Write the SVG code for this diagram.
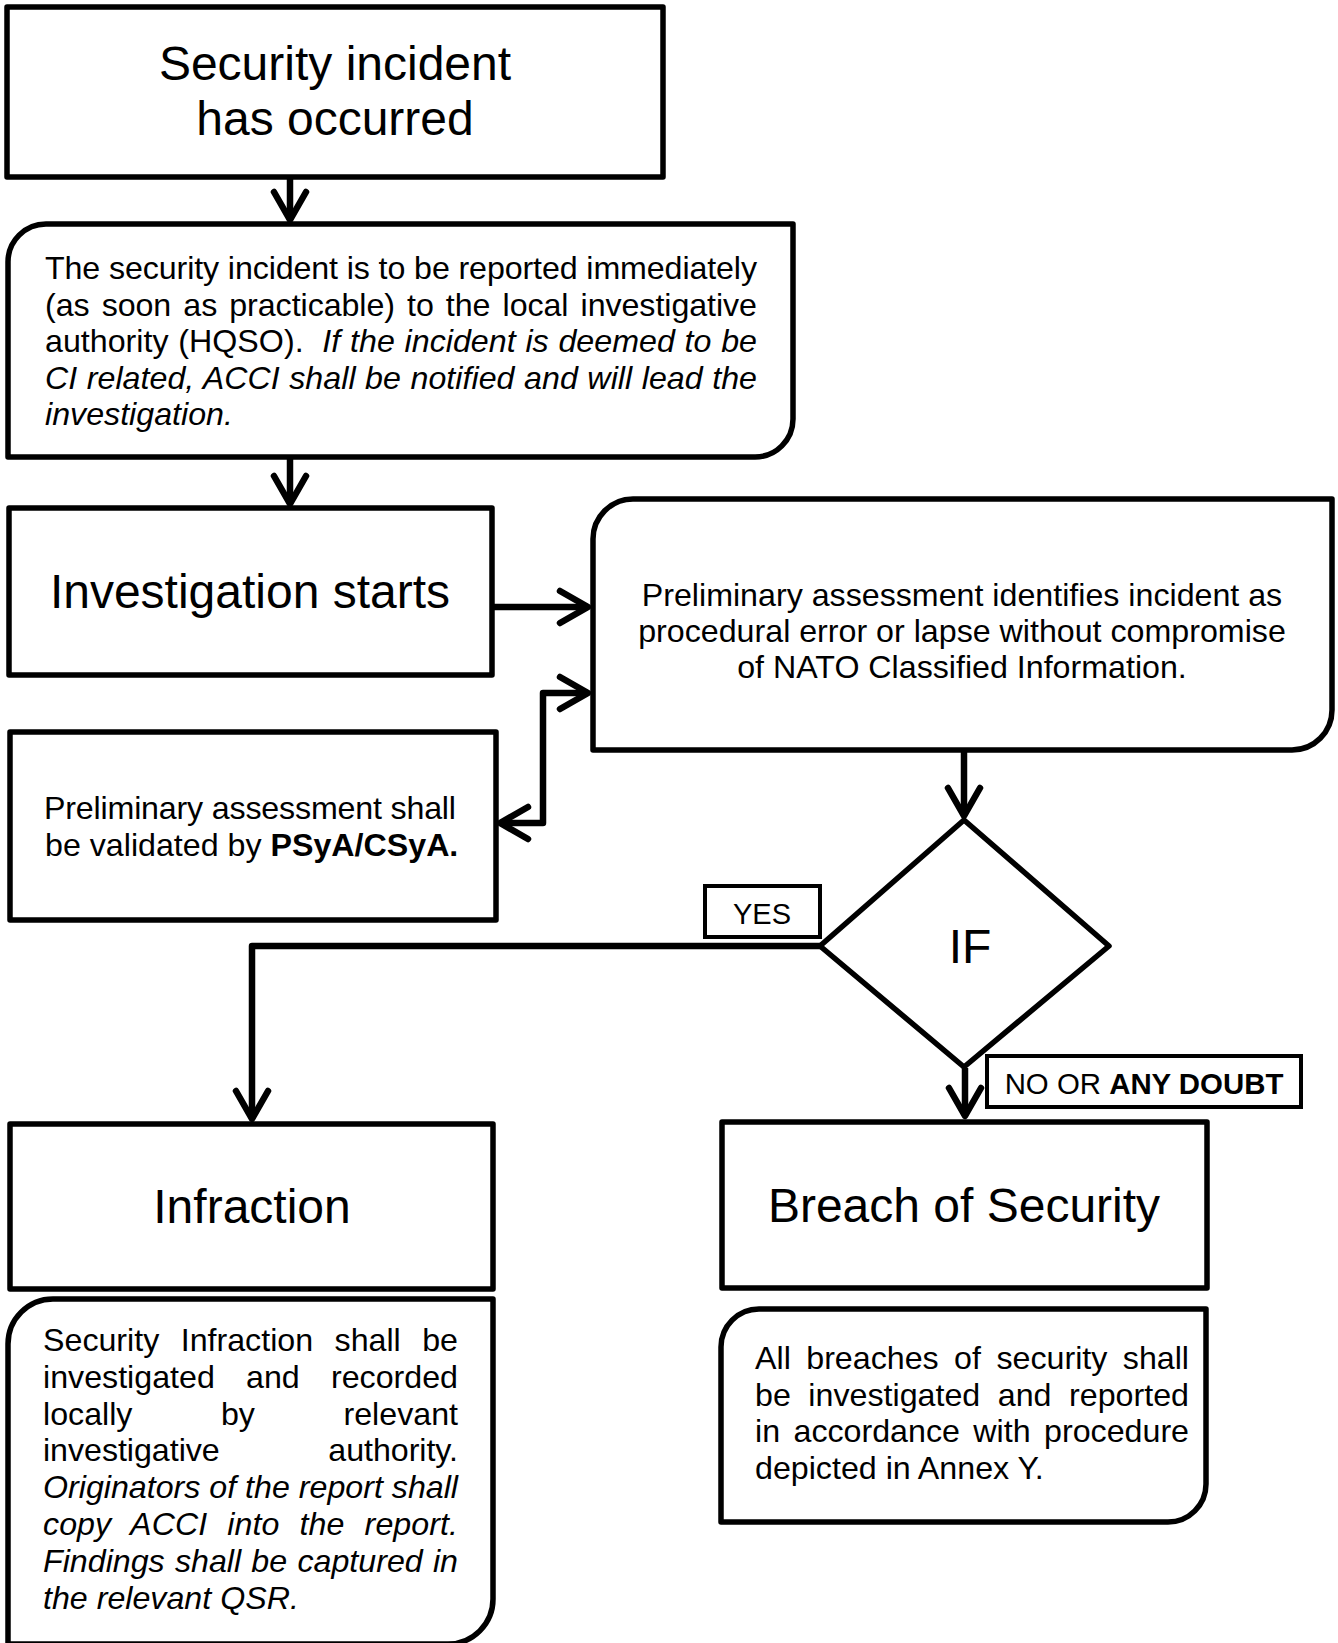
<svg xmlns="http://www.w3.org/2000/svg" width="1338" height="1643" viewBox="0 0 1338 1643">
<style>
.box{fill:#fff;stroke:#000;stroke-width:5.5;stroke-linejoin:round}
.lbl{fill:#fff;stroke:#000;stroke-width:4}
.con{fill:none;stroke:#000;stroke-width:6.5;stroke-linejoin:round}
text{font-family:"Liberation Sans",Arial,sans-serif;fill:#000}
.big{font-size:48px}
.body{font-size:32.2px}
.small{font-size:29.4px}
.it{font-style:italic}
.b{font-weight:bold}
</style>
<defs>
<marker id="arr" viewBox="-34 -20 40 40" refX="0" refY="0" markerWidth="40" markerHeight="40" markerUnits="userSpaceOnUse" orient="auto-start-reverse">
<path d="M -28 -16 L 0 0 L -28 16" fill="none" stroke="#000" stroke-width="6.5" stroke-linecap="round" stroke-linejoin="round"/>
</marker>
</defs>
<rect x="0" y="0" width="1338" height="1643" fill="#fff"/>

<g id="connectors">
<path class="con" d="M 290 177 V 220" marker-end="url(#arr)"/>
<path class="con" d="M 290 457 V 504" marker-end="url(#arr)"/>
<path class="con" d="M 492 607 H 588" marker-end="url(#arr)"/>
<path class="con" d="M 500 823 H 543 V 693 H 588" marker-start="url(#arr)" marker-end="url(#arr)"/>
<path class="con" d="M 964 750 V 816" marker-end="url(#arr)"/>
<path class="con" d="M 821 946 H 252 V 1119" marker-end="url(#arr)"/>
<path class="con" d="M 965 1068 V 1116" marker-end="url(#arr)"/>
</g>

<g id="start">
<rect class="box" x="7" y="7" width="656" height="170"/>
<text class="big" x="335" y="80" text-anchor="middle">Security incident</text>
<text class="big" x="335" y="135" text-anchor="middle">has occurred</text>
</g>

<g id="report">
<path class="box" d="M 8 262 A 38 38 0 0 1 46 224 H 793 V 419 A 38 38 0 0 1 755 457 H 8 Z"/>
<text class="body" x="45" y="279" textLength="712" lengthAdjust="spacing">The security incident is to be reported immediately</text>
<text class="body" x="45" y="316" word-spacing="3.2" textLength="712" lengthAdjust="spacing">(as soon as practicable) to the local investigative</text>
<text class="body" x="45" y="352" word-spacing="0.8" textLength="712" lengthAdjust="spacing">authority (HQSO). <tspan class="it" dx="9">If the incident is deemed to be</tspan></text>
<text class="body it" x="45" y="389" word-spacing="0.6" textLength="712" lengthAdjust="spacing">CI related, ACCI shall be notified and will lead the</text>
<text class="body it" x="45" y="425">investigation.</text>
</g>

<g id="investigation">
<rect class="box" x="9" y="508" width="483" height="167"/>
<text class="big" x="250" y="608" text-anchor="middle">Investigation starts</text>
</g>

<g id="preliminary">
<path class="box" d="M 593 539 A 40 40 0 0 1 633 499 H 1332 V 710 A 40 40 0 0 1 1292 750 H 593 Z"/>
<text class="body" x="962" y="606" text-anchor="middle">Preliminary assessment identifies incident as</text>
<text class="body" x="962" y="642" text-anchor="middle">procedural error or lapse without compromise</text>
<text class="body" x="962" y="678" text-anchor="middle">of NATO Classified Information.</text>
</g>

<g id="validate">
<rect class="box" x="10" y="732" width="486" height="188"/>
<text class="body" x="44" y="819" textLength="412" lengthAdjust="spacing">Preliminary assessment shall</text>
<text class="body" x="45" y="856">be validated by <tspan class="b">PSyA/CSyA.</tspan></text>
</g>

<g id="decision">
<polygon class="box" points="964,820 1109,946 964,1067 820,946"/>
<text class="big" x="970" y="963" text-anchor="middle">IF</text>
</g>

<g id="yes-label">
<rect class="lbl" x="705" y="886" width="115" height="51"/>
<text x="762" y="924" text-anchor="middle" font-size="29">YES</text>
</g>

<g id="no-label">
<rect class="lbl" x="987" y="1056" width="314" height="51"/>
<text class="small" x="1144" y="1094" text-anchor="middle">NO OR <tspan class="b">ANY DOUBT</tspan></text>
</g>

<g id="infraction">
<rect class="box" x="10" y="1124" width="483" height="165"/>
<text class="big" x="252" y="1223" text-anchor="middle">Infraction</text>
</g>

<g id="infraction-note">
<path class="box" d="M 8 1344 A 45 45 0 0 1 53 1299 H 493 V 1599 A 45 45 0 0 1 448 1644 H 8 Z"/>
<text class="body" x="43" y="1351" word-spacing="12.5" textLength="415" lengthAdjust="spacing">Security Infraction shall be</text>
<text class="body" x="43" y="1388" word-spacing="22.3" textLength="415" lengthAdjust="spacing">investigated and recorded</text>
<text class="body" x="43" y="1425" word-spacing="79.6" textLength="415" lengthAdjust="spacing">locally by relevant</text>
<text class="body" x="43" y="1461" word-spacing="99.7" textLength="415" lengthAdjust="spacing">investigative authority.</text>
<text class="body it" x="43" y="1498" textLength="415" lengthAdjust="spacing">Originators of the report shall</text>
<text class="body it" x="43" y="1535" word-spacing="11.1" textLength="415" lengthAdjust="spacing">copy ACCI into the report.</text>
<text class="body it" x="43" y="1572" word-spacing="1.3" textLength="415" lengthAdjust="spacing">Findings shall be captured in</text>
<text class="body it" x="43" y="1609">the relevant QSR.</text>
</g>

<g id="breach">
<rect class="box" x="722" y="1122" width="485" height="166"/>
<text class="big" x="964" y="1222" text-anchor="middle">Breach of Security</text>
</g>

<g id="breach-note">
<path class="box" d="M 721 1347 A 38 38 0 0 1 759 1309 H 1206 V 1484 A 38 38 0 0 1 1168 1522 H 721 Z"/>
<text class="body" x="755" y="1369" word-spacing="6.5" textLength="434" lengthAdjust="spacing">All breaches of security shall</text>
<text class="body" x="755" y="1406" word-spacing="8.6" textLength="434" lengthAdjust="spacing">be investigated and reported</text>
<text class="body" x="755" y="1442" word-spacing="4.5" textLength="434" lengthAdjust="spacing">in accordance with procedure</text>
<text class="body" x="755" y="1479">depicted in Annex Y.</text>
</g>
</svg>
